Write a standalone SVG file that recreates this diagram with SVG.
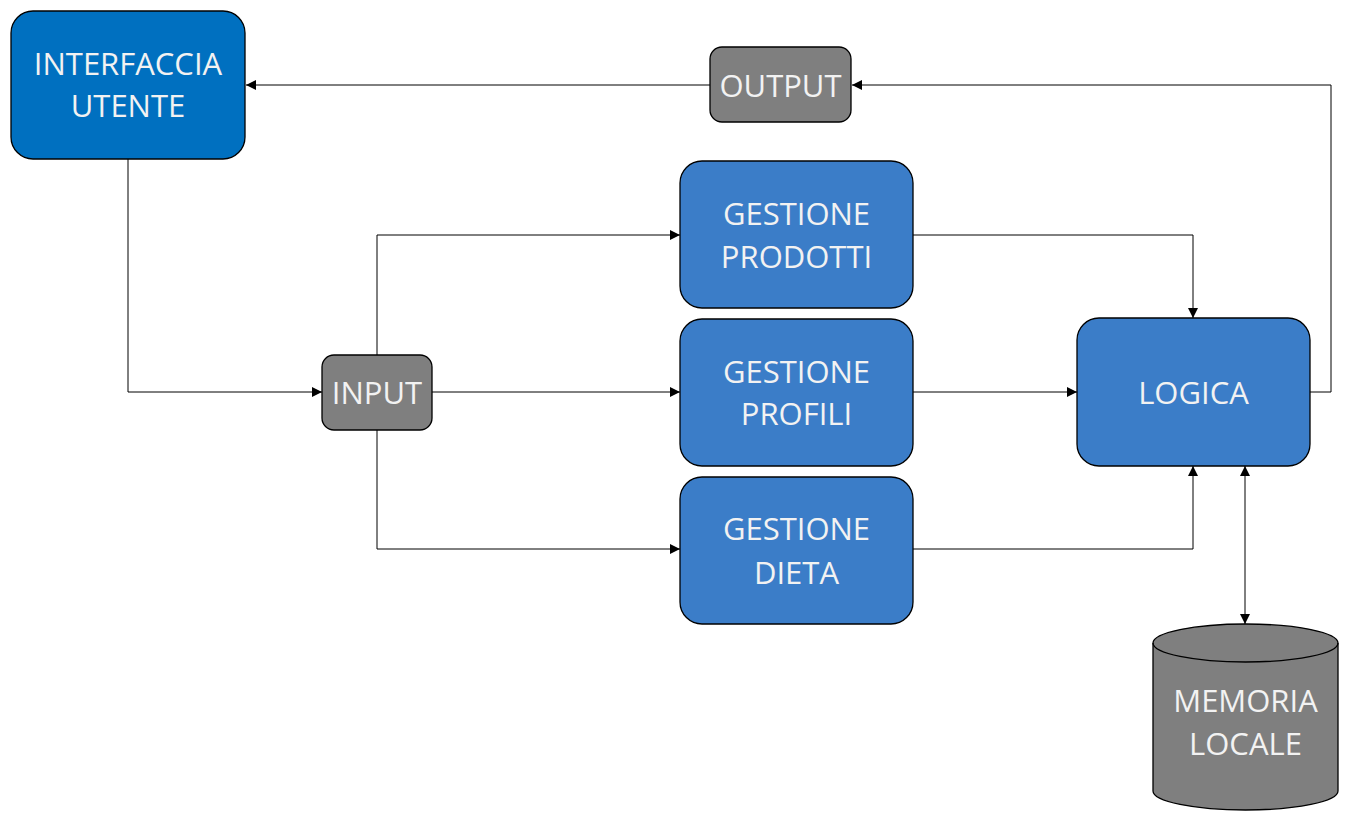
<svg xmlns="http://www.w3.org/2000/svg" width="1349" height="830" viewBox="0 0 1349 830">
<style>
.box{stroke:#000;stroke-width:1.3}
.ui{fill:#0070C0}
.blue{fill:#3B7DC8}
.gray{fill:#7F7F7F}
.t{font-family:"Open Sans","Noto Sans",sans-serif;font-size:31px;fill:#F2F2F2;text-anchor:middle;dominant-baseline:central}
.c{fill:none;stroke:#000;stroke-width:1}
</style>
<defs>
<marker id="ah" viewBox="0 0 10 10" refX="10" refY="5" markerWidth="10" markerHeight="10" markerUnits="userSpaceOnUse" orient="auto-start-reverse">
<path d="M0,0 L10,5 L0,10 z" fill="#000"/>
</marker>
</defs>
<rect width="1349" height="830" fill="#fff"/>
<g id="connectors">
<polyline class="c" points="1310,392 1331,392 1331,85 852,85" marker-end="url(#ah)"/>
<line class="c" x1="710" y1="85" x2="246" y2="85" marker-end="url(#ah)"/>
<polyline class="c" points="128,159 128,392 322,392" marker-end="url(#ah)"/>
<polyline class="c" points="377,355 377,235 680,235" marker-end="url(#ah)"/>
<line class="c" x1="432" y1="392" x2="680" y2="392" marker-end="url(#ah)"/>
<polyline class="c" points="377,430 377,549 680,549" marker-end="url(#ah)"/>
<polyline class="c" points="913,235 1193,235 1193,318" marker-end="url(#ah)"/>
<line class="c" x1="913" y1="392" x2="1077" y2="392" marker-end="url(#ah)"/>
<polyline class="c" points="913,549 1193,549 1193,466" marker-end="url(#ah)"/>
<line class="c" x1="1245" y1="466" x2="1245" y2="624" marker-start="url(#ah)" marker-end="url(#ah)"/>
</g>
<g id="interfaccia">
<rect class="box ui" x="11" y="11" width="234" height="148" rx="22"/>
<text class="t" x="128" y="63">INTERFACCIA</text>
<text class="t" x="128" y="105">UTENTE</text>
</g>
<g id="output">
<rect class="box gray" x="710" y="47" width="141" height="75" rx="12"/>
<text class="t" x="780.5" y="85">OUTPUT</text>
</g>
<g id="input">
<rect class="box gray" x="322" y="355" width="110" height="75" rx="12"/>
<text class="t" x="377" y="392">INPUT</text>
</g>
<g id="prodotti">
<rect class="box blue" x="680" y="161" width="233" height="147" rx="22"/>
<text class="t" x="796.5" y="213">GESTIONE</text>
<text class="t" x="796.5" y="256">PRODOTTI</text>
</g>
<g id="profili">
<rect class="box blue" x="680" y="319" width="233" height="147" rx="22"/>
<text class="t" x="796.5" y="371">GESTIONE</text>
<text class="t" x="796.5" y="413">PROFILI</text>
</g>
<g id="dieta">
<rect class="box blue" x="680" y="477" width="233" height="147" rx="22"/>
<text class="t" x="796.5" y="528">GESTIONE</text>
<text class="t" x="796.5" y="572">DIETA</text>
</g>
<g id="logica">
<rect class="box blue" x="1077" y="318" width="233" height="148" rx="22"/>
<text class="t" x="1193.5" y="392">LOGICA</text>
</g>
<g id="memoria">
<path class="box gray" d="M1153,643 A92.5,19 0 0 1 1338,643 L1338,791 A92.5,19 0 0 1 1153,791 Z"/>
<path class="box" fill="none" d="M1153,643 A92.5,19 0 0 0 1338,643"/>
<text class="t" x="1245.5" y="700">MEMORIA</text>
<text class="t" x="1245.5" y="743">LOCALE</text>
</g>
</svg>
